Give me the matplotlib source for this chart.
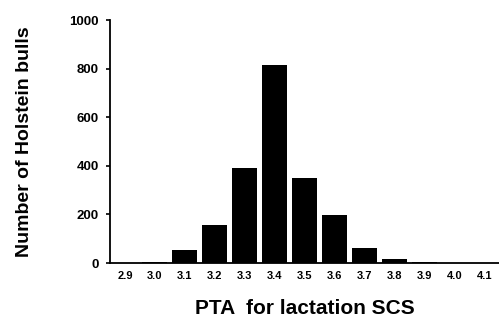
import matplotlib
matplotlib.use("Agg")
import matplotlib.pyplot as plt

categories = ["2.9", "3.0", "3.1", "3.2", "3.3", "3.4", "3.5", "3.6", "3.7", "3.8", "3.9", "4.0", "4.1"]
counts = [2, 5, 53, 158, 393, 815, 352, 197, 62, 15, 3, 2, 2]
yticks = [0, 200, 400, 600, 800, 1000]

plt.rcParams['font.family'] = ['Liberation Sans', 'DejaVu Sans']

fig = plt.figure(figsize=(4.99, 3.24), dpi=100)
ax = fig.add_axes([0.2204, 0.188, 0.78, 0.75])
x = list(range(len(categories)))
ax.bar(x, counts, width=0.84, color='black')
ax.set_xlim(-0.5, 12.5)
ax.set_ylim(0, 1000)
ax.set_yticks(yticks)
ax.set_yticklabels([str(v) for v in yticks], fontsize=9.5, fontweight='bold')
ax.set_xticks(x)
ax.set_xticklabels(categories, fontsize=8, fontweight='bold')
ax.tick_params(axis='x', length=0, pad=6)
ax.tick_params(axis='y', length=3, width=1.2, direction='out', pad=5)
for s in ['top', 'right']:
    ax.spines[s].set_visible(False)
ax.spines['left'].set_linewidth(1.3)
ax.spines['bottom'].set_linewidth(1.3)
ax.set_xlabel("PTA  for lactation SCS", fontsize=15, fontweight='bold', labelpad=13)
ax.set_ylabel("Number of Holstein bulls", fontsize=14, fontweight='bold', labelpad=26)
fig.savefig("out.png", dpi=100)
